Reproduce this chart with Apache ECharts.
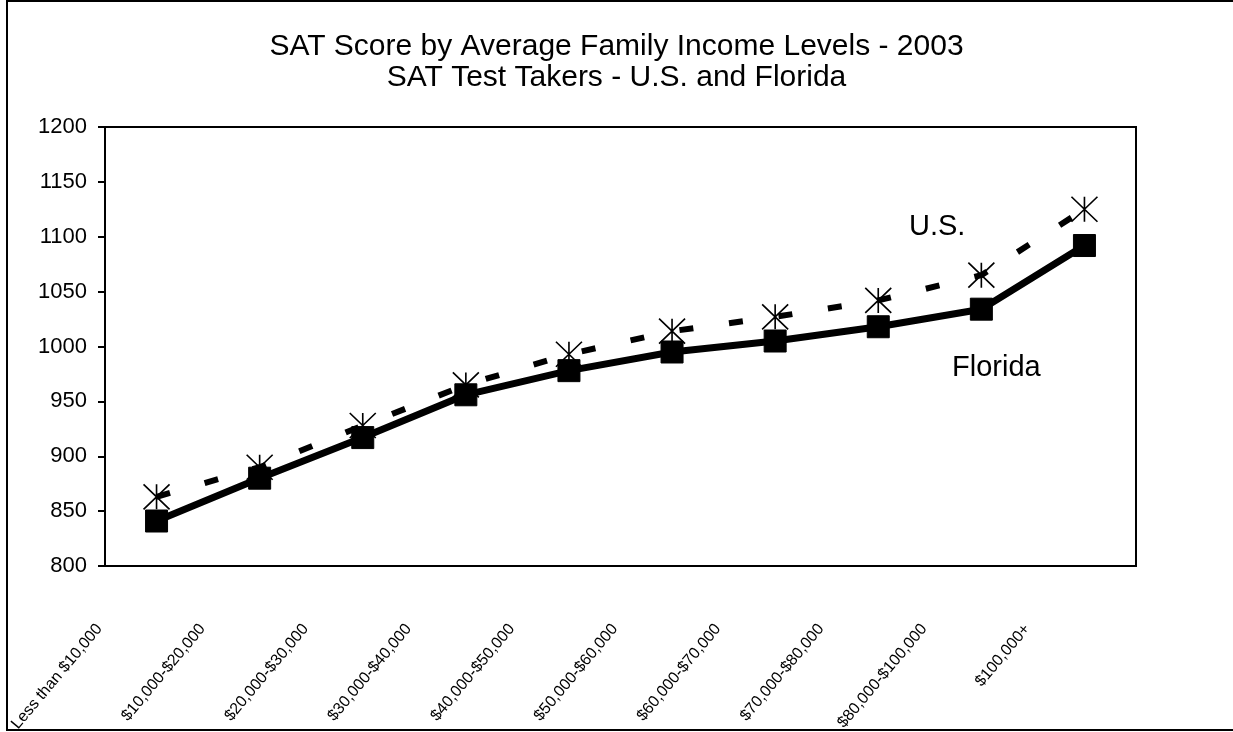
<!DOCTYPE html>
<html>
<head>
    <meta charset="utf-8">
    <script src="https://cdn.jsdelivr.net/npm/echarts@6/dist/echarts.min.js"></script>
    <style>
        body { margin: 0; background: #fff; }
        #main { width: 1233px; height: 732px; }
    </style>
</head>
<body>
    <div id="main"></div>
<script type="text/javascript">
    // income bands
    var categories = ['Less than $10,000', '$10,000-$20,000', '$20,000-$30,000', '$30,000-$40,000',
        '$40,000-$50,000', '$50,000-$60,000', '$60,000-$70,000', '$70,000-$80,000',
        '$80,000-$100,000', '$100,000+'];
    // combined SAT scores
    var usScores = [863, 890, 928, 965, 993, 1014, 1027, 1042, 1065, 1125];
    var floridaScores = [841, 880, 917, 956, 978, 995, 1005, 1018, 1034, 1092];
    var yMin = 800, yMax = 1200, yStep = 50;

    var font = 'Arial, "Liberation Sans", sans-serif';
    var chart = echarts.init(document.getElementById('main'));

    var option = {
        backgroundColor: '#fff',
        animation: false,
        textStyle: { fontFamily: font, color: '#000' },
        title: {
            text: 'SAT Score by Average Family Income Levels - 2003\nSAT Test Takers - U.S. and Florida',
            left: 'center',
            top: 31,
            padding: 0,
            textStyle: { fontFamily: font, fontSize: 30, fontWeight: 'normal', lineHeight: 31, color: '#000' }
        },
        grid: {
            left: 105, right: 97, top: 127, bottom: 166,
            outerBoundsMode: 'none',
            containLabel: false,
            show: true, borderColor: '#000', borderWidth: 2, backgroundColor: 'transparent'
        },
        xAxis: {
            type: 'category',
            data: categories,
            boundaryGap: true,
            axisLine: { lineStyle: { color: '#000', width: 2 } },
            axisTick: { inside: true, length: 7, lineStyle: { color: '#000', width: 2 } },
            axisLabel: {
                interval: 0,
                rotate: 50,
                margin: -8,
                // right padding pushes the rotated labels down-left, like the original
                padding: [0, 89, 0, 0],
                fontSize: 16,
                color: '#000',
                fontFamily: font
            },
            splitLine: { show: false }
        },
        yAxis: {
            type: 'value',
            min: yMin, max: yMax, interval: yStep,
            axisLine: { show: true, lineStyle: { color: '#000', width: 2 } },
            axisTick: { show: true, length: 7, lineStyle: { color: '#000', width: 2 } },
            axisLabel: {
                fontSize: 22, color: '#000', margin: 18, fontFamily: font,
                formatter: function (v) { return String(v); }
            },
            splitLine: { show: false }
        },
        series: [
            {
                name: 'U.S.',
                type: 'line',
                data: usScores,
                symbol: 'path://M0,0 L10,10 M10,0 L0,10 M5,0 L5,10',
                symbolSize: [26, 25],
                itemStyle: { color: 'rgba(0,0,0,0)', borderColor: '#000', borderWidth: 1.6 },
                lineStyle: { color: '#000', width: 6, type: [14, 36] },
                z: 2
            },
            {
                name: 'Florida',
                type: 'line',
                data: floridaScores,
                symbol: 'rect',
                symbolSize: 22,
                itemStyle: { color: '#000', borderColor: '#000', borderWidth: 1 },
                lineStyle: { color: '#000', width: 7 },
                z: 3
            }
        ],
        graphic: [
            {
                type: 'rect',
                shape: { x: 7, y: 1, width: 1240, height: 729 },
                style: { fill: 'none', stroke: '#000', lineWidth: 2 },
                silent: true
            },
            {
                type: 'text', left: 909, top: 212,
                style: { text: 'U.S.', font: '29px ' + font, fill: '#000' }
            },
            {
                type: 'text', left: 952, top: 353,
                style: { text: 'Florida', font: '29px ' + font, fill: '#000' }
            }
        ]
    };

    chart.setOption(option);
</script>
</body>
</html>
